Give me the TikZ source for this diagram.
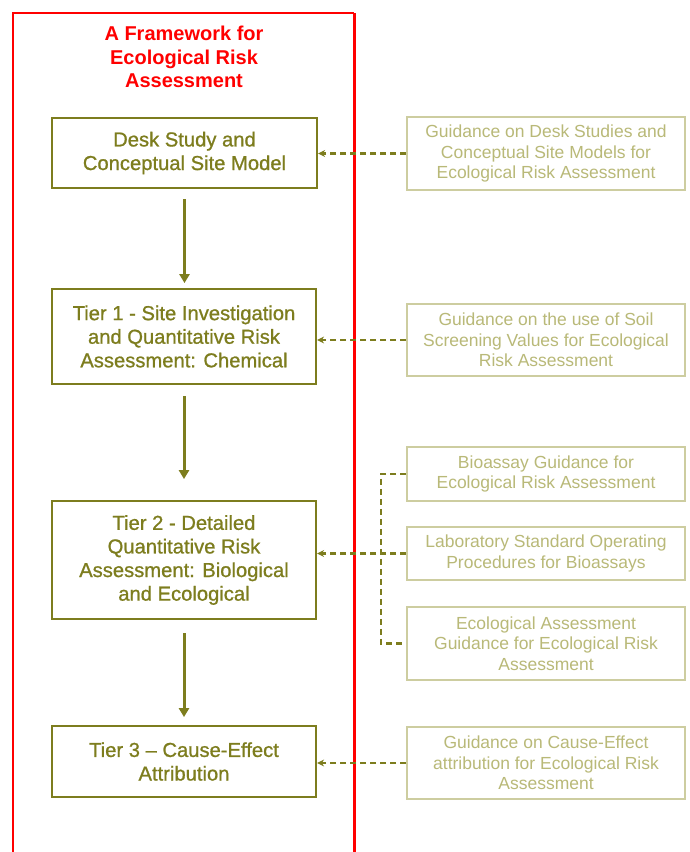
\documentclass[tikz,border=0pt]{standalone}
\usepackage{fontspec}
\setmainfont{Liberation Sans}
\newfontfamily\boxfont[FakeBold=0.9,Ligatures=TeX]{Liberation Sans}
\usetikzlibrary{arrows.meta}
\definecolor{olivedark}{RGB}{125,125,30}
\definecolor{olivelight}{RGB}{205,205,160}
\definecolor{olivetext}{RGB}{185,185,120}
\definecolor{framered}{RGB}{255,0,0}
\tikzset{
  mainbox/.style={draw=olivedark, line width=2.2pt, text=olivedark, align=center,
    inner sep=0pt, font=\boxfont\fontsize{20.2}{23.6}\selectfont},
  guidebox/.style={draw=olivelight, line width=1.6pt, text=olivetext, align=center,
    inner sep=0pt, minimum width=278pt, font=\fontsize{17.5}{20.5}\selectfont},
  flowarrow/.style={draw=olivedark, line width=3pt, -{Triangle[length=9pt,width=10pt]}},
  feedline/.style={draw=olivedark, line width=2.4pt, dash pattern=on 6pt off 4pt},
  feedarrow/.style={feedline, -{Stealth[length=7pt,width=7pt]}},
}
\begin{document}
\begin{tikzpicture}[x=1pt,y=-1pt]
\useasboundingbox[fill=white] (0,0) rectangle (690,852);
% red frame
\draw[framered, line width=1.6pt] (13,860) -- (13,13) -- (354,13);
\draw[framered, line width=3pt] (354,13) -- (354,860);
\node[text=framered, align=center, font=\bfseries\fontsize{20}{23.5}\selectfont] (title) at (184,57)
  {A Framework for\\Ecological Risk\\Assessment};
% main boxes
\node[mainbox, minimum width=265pt, minimum height=70pt] (b1) at (184.5,153)
  {Desk Study and\\Conceptual Site Model};
\node[mainbox, minimum width=264pt, minimum height=95pt] (b2) at (184,336.5)
  {Tier 1 - Site Investigation\\and Quantitative Risk\\Assessment: Chemical};
\node[mainbox, minimum width=264pt, minimum height=118pt] (b3) at (184,560)
  {Tier 2 - Detailed\\Quantitative Risk\\Assessment: Biological\\and Ecological};
\node[mainbox, minimum width=264pt, minimum height=71pt] (b4) at (184,761.5)
  {Tier 3 – Cause-Effect\\Attribution};
% flow arrows
\draw[flowarrow] ([yshift=-10pt]b1.south) -- ++(0,84);
\draw[flowarrow] ([yshift=-11pt]b2.south) -- ++(0,83);
\draw[flowarrow] ([yshift=-13pt]b3.south) -- ++(0,84);
% guidance boxes
\node[guidebox, minimum height=73pt] (r1) at (546,153.5)
  {Guidance on Desk Studies and\\Conceptual Site Models for\\Ecological Risk Assessment};
\node[guidebox, minimum height=72pt] (r2) at (546,340)
  {Guidance on the use of Soil\\Screening Values for Ecological\\Risk Assessment};
\node[guidebox, minimum height=54pt] (r3a) at (546,474)
  {Bioassay Guidance for\\Ecological Risk Assessment};
\node[guidebox, minimum height=53pt] (r3b) at (546,553.5)
  {Laboratory Standard Operating\\Procedures for Bioassays};
\node[guidebox, minimum height=73pt] (r3c) at (546,643.5)
  {Ecological Assessment\\Guidance for Ecological Risk\\Assessment};
\node[guidebox, minimum height=72pt] (r4) at (546,763)
  {Guidance on Cause-Effect\\attribution for Ecological Risk\\Assessment};
% feed connectors
\coordinate (bx) at (381,0);
\draw[feedarrow] (r1.west) -- (r1.west -| b1.east);
\draw[feedarrow] (r2.west) -- (r2.west -| b2.east);
\draw[feedarrow] (r3b.west) -- (r3b.west -| b3.east);
\draw[feedline] (r3a.west) -- (r3a.west -| bx) -- (r3c.west -| bx) -- (r3c.west);
\draw[feedarrow] (r4.west) -- (r4.west -| b4.east);
\end{tikzpicture}
\end{document}
